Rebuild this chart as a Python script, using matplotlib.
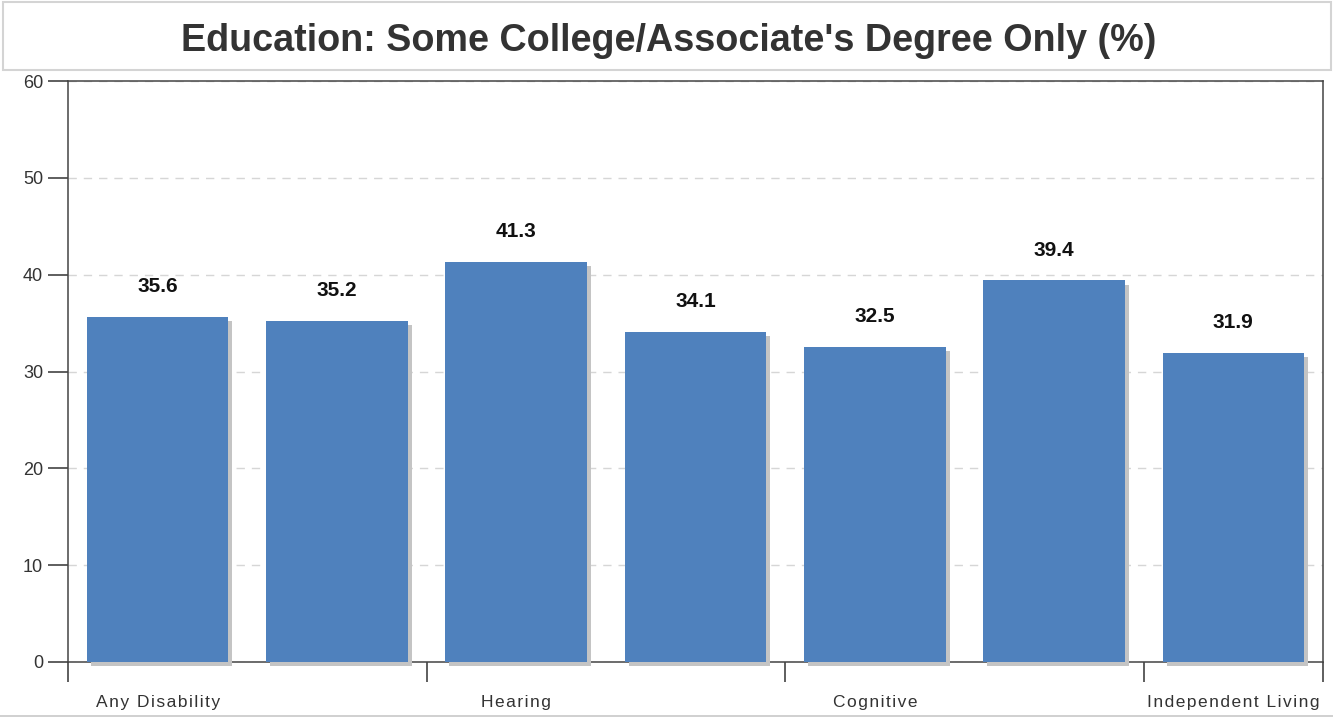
import matplotlib
matplotlib.use("Agg")
import matplotlib.pyplot as plt
from matplotlib.patches import Rectangle
from matplotlib import patheffects as pe
import numpy as np

plt.rcParams['font.family'] = ['Liberation Sans', 'DejaVu Sans']

title = "Education: Some College/Associate's Degree Only (%)"
categories = ["Any Disability", "Visual", "Hearing", "Ambulatory",
              "Cognitive", "Self-Care", "Independent Living"]
values = [35.6, 35.2, 41.3, 34.1, 32.5, 39.4, 31.9]
shown_labels = ["Any Disability", "", "Hearing", "", "Cognitive", "", "Independent Living"]
yticks = [0, 10, 20, 30, 40, 50, 60]


def spaced(s):
    return "\u200a".join(s)


W, H = 1333, 717
fig = plt.figure(figsize=(W / 100, H / 100), dpi=100)
fig.patch.set_facecolor('white')

# title box
fig.patches.append(Rectangle((3 / W, 1 - 70 / H), (1331 - 3) / W, (70 - 2) / H,
                             transform=fig.transFigure, facecolor='white',
                             edgecolor='#d4d4d4', linewidth=1.5, zorder=0))
fig.text(669 / W, 1 - 41 / H, title, ha='center', va='center',
         fontsize=27.2, fontweight='bold', color='#333333')
# bottom border line
fig.lines.append(plt.Line2D([0, 1], [1 - 715.5 / H] * 2, transform=fig.transFigure,
                            color='#c8c8c8', linewidth=1.2))

ax = fig.add_axes([68 / W, 1 - 662 / H, (1323 - 68) / W, (662 - 81) / H])
x = np.arange(len(categories))
bars = ax.bar(x, values, width=0.79, color='#4F81BD', zorder=3, clip_on=False)
for b in bars:
    b.set_path_effects([pe.SimplePatchShadow(offset=(2.9, -2.9), shadow_rgbFace='#c4c4c4',
                                             alpha=1.0), pe.Normal()])

for xi, v in zip(x, values):
    ax.annotate(f"{v:.1f}", (xi, v), xytext=(0, 15), textcoords='offset points',
                ha='center', va='bottom', fontsize=15, fontweight='bold', color='#111111')

ax.set_xlim(-0.5, len(categories) - 0.5)
ax.set_ylim(0, 60)
ax.set_yticks(yticks)
ax.set_yticklabels([str(t) for t in yticks])
ax.yaxis.grid(True, linestyle=(0, (6, 5)), color='#d6d6d6', linewidth=1.0, zorder=0)
ax.set_axisbelow(True)

ax.set_xticks([-0.5, 1.5, 3.5, 5.5, 6.5])
ax.set_xticklabels([])
ax.set_xticks(x, minor=True)
ax.set_xticklabels([spaced(l) for l in shown_labels], minor=True)
ax.tick_params(axis='x', which='major', length=14.4, width=1.1, color='#333333', direction='out')
ax.tick_params(axis='x', which='minor', length=0, pad=24, labelsize=12.5, labelcolor='#333333')
ax.tick_params(axis='y', length=14.4, width=1.1, color='#333333', pad=3.5,
               labelsize=13, labelcolor='#333333')

for s in ax.spines.values():
    s.set_color('#444444')
    s.set_linewidth(1.1)
ax.spines['bottom'].set_zorder(2)

fig.savefig('out.png', dpi=100, facecolor='white')
